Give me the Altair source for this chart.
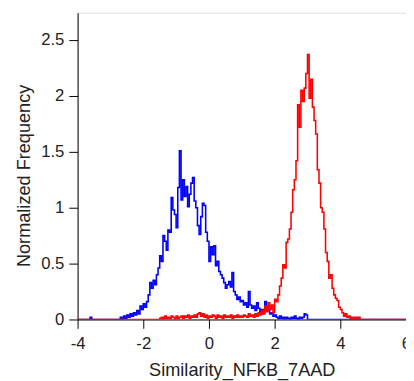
import altair as alt
import numpy as np
import pandas as pd

# bin grid (width 0.05)
BIN = 0.05
blue_start = -2.70
blue_vals = [0.02, 0.00, 0.03, 0.01, 0.04, 0.02, 0.05, 0.03, 0.06, 0.04,
             0.08, 0.05, 0.12, 0.09, 0.14, 0.11, 0.16, 0.22, 0.33, 0.28,
             0.35, 0.31, 0.40, 0.46, 0.57, 0.52, 0.75, 0.70, 0.62, 0.80,
             0.78, 1.09, 0.98, 0.94, 0.82, 1.18, 1.51, 1.07, 1.25, 1.10,
             1.19, 1.01, 1.12, 1.22, 1.27, 1.06, 1.00, 0.84, 0.76, 0.92,
             1.04, 1.02, 0.78, 0.70, 0.52, 0.65, 0.58, 0.66, 0.48, 0.52,
             0.43, 0.40, 0.37, 0.33, 0.28, 0.31, 0.34, 0.29, 0.42, 0.25,
             0.22, 0.18, 0.20, 0.16, 0.17, 0.13, 0.15, 0.11, 0.25, 0.13,
             0.10, 0.12, 0.08, 0.15, 0.10, 0.07, 0.09, 0.06, 0.16, 0.11,
             0.08, 0.05, 0.06, 0.03, 0.04, 0.02, 0.01, 0.03, 0.01, 0.02,
             0.00, 0.02, 0.01, 0.00, 0.02, 0.01, 0.03, 0.01, 0.00, 0.02,
             0.01, 0.02, 0.05, 0.04, 0.00]
blue_extra_x = [-4.0, -3.62, -3.57]
blue_extra_y = [0.0, 0.02, 0.0]

red_start = -1.50
red_vals = [0.01, 0.02, 0.00, 0.03, 0.01, 0.02, 0.01, 0.03, 0.02, 0.00,
            0.03, 0.01, 0.02, 0.03, 0.01, 0.03, 0.02, 0.04, 0.01, 0.03,
            0.02, 0.04, 0.02, 0.05, 0.06, 0.03, 0.05, 0.02, 0.04, 0.01,
            0.03, 0.02, 0.04, 0.03, 0.01, 0.04, 0.02, 0.03, 0.01, 0.04,
            0.02, 0.03, 0.02, 0.04, 0.01, 0.03, 0.02, 0.04, 0.02, 0.03,
            0.02, 0.04, 0.03, 0.02, 0.05, 0.03, 0.04, 0.02, 0.05, 0.03,
            0.06, 0.04, 0.08, 0.05, 0.12, 0.07, 0.15, 0.09, 0.13, 0.06,
            0.18, 0.16, 0.22, 0.30, 0.37, 0.49, 0.46, 0.69, 0.72, 0.81,
            0.96, 1.16, 1.25, 1.42, 1.92, 1.72, 2.05, 1.95, 2.07, 2.20,
            2.37, 1.98, 2.15, 1.90, 1.78, 1.66, 1.34, 1.22, 1.00, 0.96,
            0.81, 0.60, 0.52, 0.37, 0.40, 0.28, 0.22, 0.19, 0.17, 0.11,
            0.09, 0.06, 0.03, 0.05, 0.02, 0.03, 0.01, 0.02, 0.00, 0.02,
            0.01, 0.02, 0.00]

x_ticks = [-4, -2, 0, 2, 4, 6]
y_ticks = [0, 0.5, 1, 1.5, 2, 2.5]


def series(start, vals, name, pre_x=None, pre_y=None):
    xs = list(np.round(start + BIN * np.arange(len(vals)), 4))
    ys = list(vals)
    if pre_x:
        xs = pre_x + xs
        ys = pre_y + ys
    xs = xs + [6.0]
    ys = ys + [0.0]
    if xs[0] > -4.0:
        xs = [-4.0] + xs
        ys = [0.0] + ys
    return pd.DataFrame({"x": xs, "y": ys, "s": name, "i": range(len(xs))})


blue = series(blue_start, blue_vals, "blue", blue_extra_x, blue_extra_y)
red = series(red_start, red_vals, "red")

FONT = "Liberation Sans"
xscale = alt.Scale(domain=[-4, 6], nice=False, zero=False)
yscale = alt.Scale(domain=[0, 2.745], nice=False)

xaxis = alt.Axis(values=x_ticks, title="Similarity_NFkB_7AAD", grid=False,
                 labelExpr="'' + datum.value", tickSize=9, labelPadding=8,
                 titlePadding=9, labelFontSize=17, titleFontSize=18.5,
                 labelFont=FONT, titleFont=FONT, titleFontWeight="normal",
                 labelColor="#222", titleColor="#222", domainColor="black",
                 tickColor="black", labelFlush=False, labelOverlap=False)
yaxis = alt.Axis(values=y_ticks, title="Normalized Frequency", grid=False,
                 labelExpr="'' + datum.value", tickSize=9, labelPadding=5,
                 titlePadding=7, labelFontSize=17, titleFontSize=18.5,
                 titleY=166,
                 labelFont=FONT, titleFont=FONT, titleFontWeight="normal",
                 labelColor="#222", titleColor="#222", domainColor="black",
                 tickColor="black", labelFlush=False, labelOverlap=False)


def line(df, color):
    return alt.Chart(df).mark_line(interpolate="step-after", color=color,
                                   strokeWidth=1.6, clip=True).encode(
        x=alt.X("x:Q", scale=xscale, axis=xaxis),
        y=alt.Y("y:Q", scale=yscale, axis=yaxis),
        order="i:Q",
    )


chart = alt.layer(line(blue, "#0000FF"), line(red, "#FF0000")).properties(
    width=335, height=313,
    autosize=alt.AutoSizeParams(type="none"),
    padding={"left": 71, "top": 1, "right": 0, "bottom": 59},
).configure_view(stroke="black", strokeWidth=1).configure(background="white")

chart.save("out.html", embed_options={"renderer": "svg", "actions": False})
